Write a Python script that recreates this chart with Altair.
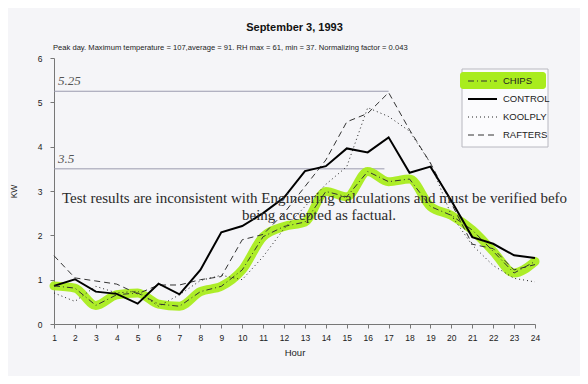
import altair as alt
import pandas as pd

# ---- data ----
hours = list(range(1, 25))
chips = [0.86, 0.81, 0.42, 0.66, 0.70, 0.45, 0.40, 0.73, 0.85, 1.22, 1.97, 2.20,
         2.30, 2.99, 2.87, 3.44, 3.21, 3.27, 2.65, 2.45, 2.12, 1.64, 1.15, 1.41]
control = [0.86, 1.01, 0.73, 0.68, 0.46, 0.91, 0.67, 1.22, 2.07, 2.21, 2.50, 2.85,
           3.45, 3.56, 3.96, 3.87, 4.21, 3.41, 3.55, 2.78, 1.96, 1.81, 1.55, 1.49]
koolply = [0.70, 0.51, 0.85, 0.70, 0.74, 0.40, 0.66, 0.98, 1.10, 1.00, 1.52, 2.15,
           2.65, 3.15, 3.55, 4.88, 4.68, 4.35, 3.63, 2.45, 1.78, 1.32, 1.03, 0.95]
rafters = [1.54, 1.04, 0.97, 0.90, 0.68, 0.88, 0.88, 1.00, 1.07, 1.90, 2.02, 2.50,
           3.10, 3.70, 4.56, 4.75, 5.22, 4.38, 3.63, 2.72, 1.80, 1.70, 1.22, 1.34]

ref_values = [5.25, 3.5]
ref_labels = ["5.25", "3.5"]
ref_start = [1, 1]
ref_end = [17, 16.8]

y_ticks = [0, 1, 2, 3, 4, 5, 6]
legend_names = ["CHIPS", "CONTROL", "KOOLPLY", "RAFTERS"]

title_text = "September 3, 1993"
subtitle_text = ("Peak day.  Maximum temperature = 107,average = 91. RH max = 61, "
                 "min = 37.  Normalizing factor = 0.043")
stamp_line1 = "Test results are inconsistent with Engineering calculations and must be verified befo"
stamp_line2 = "being accepted as factual."

GREEN = "#a9ec1e"
FONT = "Liberation Sans"

df = pd.DataFrame({
    "hour": hours * 4,
    "kw": chips + control + koolply + rafters,
    "series": ["CHIPS"] * 24 + ["CONTROL"] * 24 + ["KOOLPLY"] * 24 + ["RAFTERS"] * 24,
})
ref_df = pd.DataFrame({"y": ref_values, "x1": ref_start, "x2": ref_end, "label": ref_labels})
one = pd.DataFrame({"k": [0]})

x_scale = alt.Scale(domain=[1, 24], nice=False, zero=False)
y_scale = alt.Scale(domain=[0, 6], nice=False)

x_axis = alt.Axis(values=hours, title="Hour", grid=False, tickSize=4,
                  labelOverlap=False, labelFlush=False,
                  labelFontSize=8.5, labelPadding=5, titleFontSize=9.5,
                  titleFontWeight="normal", titlePadding=6,
                  domainColor="#777", tickColor="#777", labelColor="#222",
                  titleColor="#222", labelFont=FONT, titleFont=FONT)
y_axis = alt.Axis(values=y_ticks, title="KW", grid=False, tickSize=4,
                  labelFontSize=8.5, labelPadding=8, titleFontSize=8.5,
                  titleFontWeight="normal", titlePadding=19,
                  domainColor="#777", tickColor="#777", labelColor="#222",
                  titleColor="#222", labelFont=FONT, titleFont=FONT)

x_enc = alt.X("hour:Q", scale=x_scale, axis=x_axis)
y_enc = alt.Y("kw:Q", scale=y_scale, axis=y_axis)


def series_line(name, **kw):
    return alt.Chart(df).transform_filter(alt.datum.series == name).mark_line(**kw).encode(
        x=x_enc, y=y_enc)


ref_rules = alt.Chart(ref_df).mark_rule(color="#9a9aae", strokeWidth=1).encode(
    x=alt.X("x1:Q", scale=x_scale, axis=x_axis),
    x2="x2:Q",
    y=alt.Y("y:Q", scale=y_scale, axis=y_axis),
)
ref_text = alt.Chart(ref_df).mark_text(
    font="Liberation Serif", fontStyle="italic", fontSize=13, color="#555",
    align="left", baseline="bottom", dx=4, dy=-3
).encode(x=alt.X("x1:Q", scale=x_scale, axis=x_axis),
         y=alt.Y("y:Q", scale=y_scale, axis=y_axis), text="label:N")

chips_hl = series_line("CHIPS", color=GREEN, strokeWidth=9, opacity=0.95,
                       interpolate="monotone", strokeCap="round", strokeJoin="round")
rafters_l = series_line("RAFTERS", color="#333", strokeWidth=1, strokeDash=[6, 4])
koolply_l = series_line("KOOLPLY", color="#222", strokeWidth=1, strokeDash=[1, 3])
control_l = series_line("CONTROL", color="#000", strokeWidth=2)
chips_l = series_line("CHIPS", color="#333", strokeWidth=1, strokeDash=[6, 3, 1, 3])

stamp1 = alt.Chart(one).mark_text(font="Liberation Serif", fontSize=15, color="#2a2a2a",
                                  align="left", baseline="middle").encode(
    x=alt.value(8), y=alt.value(140), text=alt.value(stamp_line1))
stamp2 = alt.Chart(one).mark_text(font="Liberation Serif", fontSize=15, color="#2a2a2a",
                                  align="left", baseline="middle").encode(
    x=alt.value(188), y=alt.value(157), text=alt.value(stamp_line2))
subtitle = alt.Chart(one).mark_text(font=FONT, fontSize=7.6, color="#222",
                                    align="left", baseline="middle").encode(
    x=alt.value(-1), y=alt.value(-10), text=alt.value(subtitle_text))

# legend (drawn by hand to reproduce the highlighted CHIPS entry)
leg_box = alt.Chart(one).mark_rect(fill="#fbfbfd", stroke="#b8b8c0", strokeWidth=1).encode(
    x=alt.value(408), x2=alt.value(494), y=alt.value(11), y2=alt.value(89))
leg_hl = alt.Chart(one).mark_rect(fill=GREEN, cornerRadius=3).encode(
    x=alt.value(406), x2=alt.value(492), y=alt.value(14), y2=alt.value(31))
leg_styles = [
    dict(color="#333", strokeWidth=1, strokeDash=[6, 3, 1, 3]),
    dict(color="#000", strokeWidth=2),
    dict(color="#222", strokeWidth=1, strokeDash=[1, 3]),
    dict(color="#333", strokeWidth=1, strokeDash=[6, 4]),
]
leg_layers = [leg_box, leg_hl]
for i, name in enumerate(legend_names):
    yy = 23 + 18 * i
    leg_layers.append(alt.Chart(one).mark_rule(**leg_styles[i]).encode(
        x=alt.value(414), x2=alt.value(443), y=alt.value(yy)))
    leg_layers.append(alt.Chart(one).mark_text(font=FONT, fontSize=9.5, color="#222",
                                               align="left", baseline="middle").encode(
        x=alt.value(449), y=alt.value(yy), text=alt.value(name)))

chart = alt.layer(
    ref_rules, ref_text, chips_hl, rafters_l, koolply_l, control_l, chips_l,
    stamp1, stamp2, subtitle, *leg_layers
).properties(
    width=481, height=266,
    title=alt.TitleParams(title_text, font=FONT, fontSize=11, fontWeight="bold",
                          anchor="middle", color="#111", offset=11),
    padding={"left": 46, "top": 50, "right": 45, "bottom": 52},
    autosize=alt.AutoSizeParams(type="none"),
    background="#f5f5f8",
).configure_view(stroke=None).configure_axis(labelOverlap=False)

chart.save("out.html", embed_options={"renderer": "svg", "actions": False})
